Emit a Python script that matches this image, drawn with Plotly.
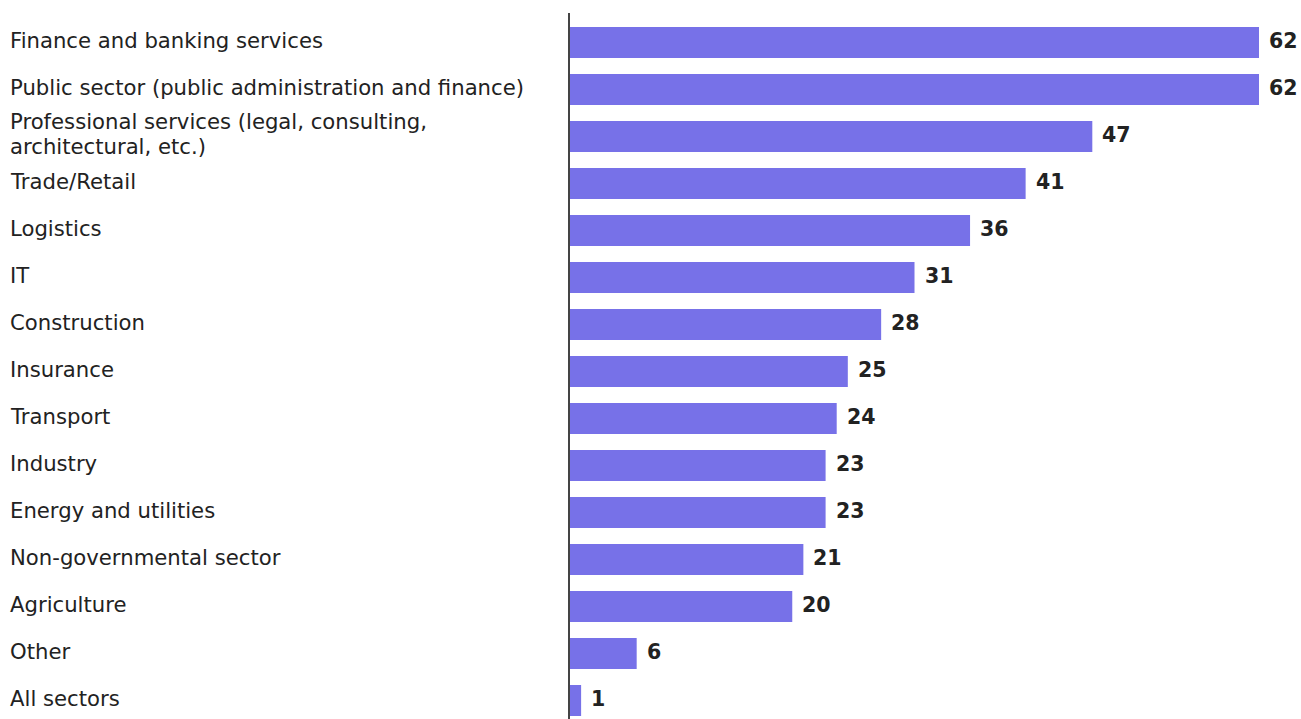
import plotly.graph_objects as go

sectors = [
    "Finance and banking services",
    "Public sector (public administration and finance)",
    "Professional services (legal, consulting,<br>architectural, etc.)",
    "Trade/Retail",
    "Logistics",
    "IT",
    "Construction",
    "Insurance",
    "Transport",
    "Industry",
    "Energy and utilities",
    "Non-governmental sector",
    "Agriculture",
    "Other",
    "All sectors",
]
values = [62, 62, 47, 41, 36, 31, 28, 25, 24, 23, 23, 21, 20, 6, 1]

BAR_COLOR = "#7771E8"
TEXT_COLOR = "#222222"
FONT = "DejaVu Sans"

W, H = 1301, 719
LEFT, TOP = 570, 13
plot_w = W - LEFT
plot_h = H - TOP
LINE_GAP = 25  # px between lines of a wrapped label

idx = list(range(len(sectors)))

fig = go.Figure(
    go.Bar(
        x=values,
        y=idx,
        orientation="h",
        marker=dict(color=BAR_COLOR, line=dict(width=0)),
        width=0.66,
        hoverinfo="skip",
    )
)

# category labels, left-aligned at the page edge; wrapped labels drawn line by line
for i, s in enumerate(sectors):
    lines = s.split("<br>")
    n = len(lines)
    for k, line in enumerate(lines):
        offset = ((n - 1) / 2 - k) * LINE_GAP
        fig.add_annotation(
            x=-(LEFT - 9) / plot_w,
            xref="paper",
            y=i,
            yref="y",
            yshift=2 + offset + (1 if n > 1 else 0),
            text=line,
            xanchor="left",
            yanchor="middle",
            align="left",
            showarrow=False,
            borderpad=0,
            font=dict(family=FONT, size=21.2, color=TEXT_COLOR),
        )

# value labels at bar ends
for i, v in enumerate(values):
    fig.add_annotation(
        x=v,
        y=i,
        xref="x",
        yref="y",
        yshift=1.5,
        text=f"<b>{v}</b>",
        xanchor="left",
        yanchor="middle",
        xshift=8,
        showarrow=False,
        font=dict(family=FONT, size=20.5, color=TEXT_COLOR),
    )

px_per_unit = 689 / 62
fig.update_layout(
    width=W,
    height=H,
    margin=dict(l=LEFT, r=0, t=TOP, b=0, pad=0),
    paper_bgcolor="white",
    plot_bgcolor="white",
    showlegend=False,
    font=dict(family=FONT, color=TEXT_COLOR),
    xaxis=dict(
        range=[0, plot_w / px_per_unit],
        visible=False,
        fixedrange=True,
    ),
    yaxis=dict(
        range=[len(sectors) - 1 + 18.5 / 47, -29.5 / 47],
        showticklabels=False,
        showgrid=False,
        zeroline=False,
        showline=True,
        linecolor="#444444",
        linewidth=1.5,
        ticks="",
        fixedrange=True,
    ),
)

fig.write_html("out.html", config={"displayModeBar": False})
